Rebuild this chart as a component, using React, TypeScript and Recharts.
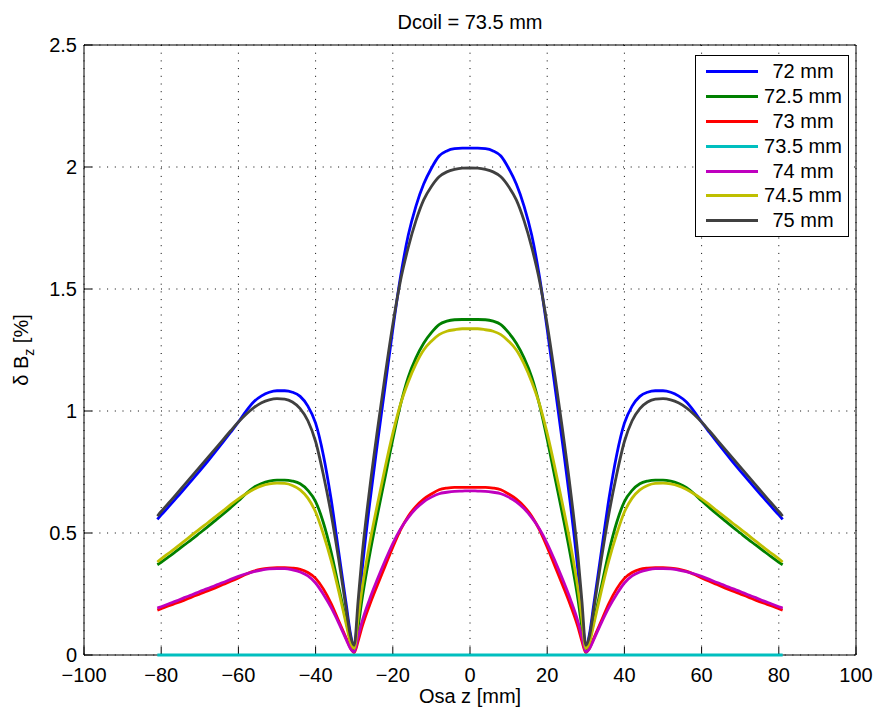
import React from 'react';
import { LineChart, Line, XAxis, YAxis, CartesianGrid, Legend } from 'recharts';

// axial position z [mm]
const Z = [
  -81, -80, -78, -76, -74, -72, -70, -68, -66, -64, -62, -60, -58, -56, -54, -52, -50, -48, -46, -44, -42,
  -40, -38, -36, -34, -32, -31, -30, -29, -28, -26, -24, -22, -20, -18, -16, -14, -12, -10, -8, -6, -4, -2,
  0,
  2, 4, 6, 8, 10, 12, 14, 16, 18, 20, 22, 24, 26, 28, 29, 30, 31, 32, 34, 36, 38, 40,
  42, 44, 46, 48, 50, 52, 54, 56, 58, 60, 62, 64, 66, 68, 70, 72, 74, 76, 78, 80, 81
];

// delta Bz [%] for each coil diameter
const D72 = [
  0.556, 0.574, 0.609, 0.645, 0.681, 0.718, 0.755, 0.793, 0.832, 0.872, 0.913, 0.955, 1.0, 1.038, 1.062, 1.077, 1.083, 1.083, 1.077, 1.06, 1.02,
  0.95, 0.82, 0.64, 0.42, 0.2, 0.09, 0.03, 0.17, 0.34, 0.62, 0.865, 1.1, 1.335, 1.55, 1.72, 1.84, 1.93, 1.995, 2.045, 2.066, 2.075, 2.077,
  2.077,
  2.077, 2.075, 2.066, 2.045, 1.995, 1.93, 1.84, 1.72, 1.55, 1.335, 1.1, 0.865, 0.62, 0.34, 0.17, 0.03, 0.09, 0.2, 0.42, 0.64, 0.82, 0.95,
  1.02, 1.06, 1.077, 1.083, 1.083, 1.077, 1.062, 1.038, 1.0, 0.955, 0.913, 0.872, 0.832, 0.793, 0.755, 0.718, 0.681, 0.645, 0.609, 0.574, 0.556
];
const D725 = [
  0.37, 0.38, 0.403, 0.427, 0.451, 0.475, 0.5, 0.525, 0.551, 0.577, 0.604, 0.632, 0.662, 0.687, 0.703, 0.713, 0.717, 0.717, 0.713, 0.702, 0.675,
  0.629, 0.543, 0.424, 0.278, 0.132, 0.06, 0.02, 0.113, 0.225, 0.41, 0.573, 0.728, 0.884, 1.026, 1.139, 1.218, 1.278, 1.321, 1.354, 1.368, 1.374, 1.375,
  1.375,
  1.375, 1.374, 1.368, 1.354, 1.321, 1.278, 1.218, 1.139, 1.026, 0.884, 0.728, 0.573, 0.41, 0.225, 0.113, 0.02, 0.06, 0.132, 0.278, 0.424, 0.543, 0.629,
  0.675, 0.702, 0.713, 0.717, 0.717, 0.713, 0.703, 0.687, 0.662, 0.632, 0.604, 0.577, 0.551, 0.525, 0.5, 0.475, 0.451, 0.427, 0.403, 0.38, 0.37
];
const D73 = [
  0.184, 0.19, 0.202, 0.213, 0.225, 0.238, 0.25, 0.262, 0.275, 0.289, 0.302, 0.316, 0.331, 0.344, 0.352, 0.356, 0.358, 0.358, 0.356, 0.351, 0.338,
  0.314, 0.271, 0.212, 0.139, 0.066, 0.03, 0.01, 0.056, 0.113, 0.205, 0.286, 0.364, 0.442, 0.513, 0.569, 0.609, 0.639, 0.66, 0.677, 0.684, 0.687, 0.687,
  0.687,
  0.687, 0.687, 0.684, 0.677, 0.66, 0.639, 0.609, 0.569, 0.513, 0.442, 0.364, 0.286, 0.205, 0.113, 0.056, 0.01, 0.03, 0.066, 0.139, 0.212, 0.271, 0.314,
  0.338, 0.351, 0.356, 0.358, 0.358, 0.356, 0.352, 0.344, 0.331, 0.316, 0.302, 0.289, 0.275, 0.262, 0.25, 0.238, 0.225, 0.213, 0.202, 0.19, 0.184
];
const D735 = [
  0, 0, 0, 0, 0, 0, 0, 0, 0, 0, 0, 0, 0, 0, 0, 0, 0, 0, 0, 0, 0,
  0, 0, 0, 0, 0, 0, 0, 0, 0, 0, 0, 0, 0, 0, 0, 0, 0, 0, 0, 0, 0, 0,
  0,
  0, 0, 0, 0, 0, 0, 0, 0, 0, 0, 0, 0, 0, 0, 0, 0, 0, 0, 0, 0, 0, 0,
  0, 0, 0, 0, 0, 0, 0, 0, 0, 0, 0, 0, 0, 0, 0, 0, 0, 0, 0, 0, 0
];
const D74 = [
  0.192, 0.198, 0.21, 0.222, 0.235, 0.247, 0.26, 0.272, 0.285, 0.297, 0.31, 0.322, 0.333, 0.342, 0.348, 0.353, 0.354, 0.354, 0.349, 0.34, 0.324,
  0.295, 0.249, 0.195, 0.131, 0.061, 0.027, 0.013, 0.074, 0.135, 0.229, 0.31, 0.386, 0.457, 0.517, 0.563, 0.6, 0.628, 0.647, 0.661, 0.667, 0.671, 0.672,
  0.673,
  0.672, 0.671, 0.667, 0.661, 0.647, 0.628, 0.6, 0.563, 0.517, 0.457, 0.386, 0.31, 0.229, 0.135, 0.074, 0.013, 0.027, 0.061, 0.131, 0.195, 0.249, 0.295,
  0.324, 0.34, 0.349, 0.354, 0.354, 0.353, 0.348, 0.342, 0.333, 0.322, 0.31, 0.297, 0.285, 0.272, 0.26, 0.247, 0.235, 0.222, 0.21, 0.198, 0.192
];
const D745 = [
  0.381, 0.394, 0.418, 0.442, 0.467, 0.492, 0.517, 0.541, 0.566, 0.591, 0.616, 0.64, 0.661, 0.679, 0.693, 0.701, 0.704, 0.703, 0.695, 0.677, 0.643,
  0.586, 0.496, 0.389, 0.261, 0.121, 0.054, 0.027, 0.147, 0.268, 0.456, 0.616, 0.767, 0.908, 1.028, 1.119, 1.193, 1.25, 1.286, 1.313, 1.327, 1.333, 1.337,
  1.337,
  1.337, 1.333, 1.327, 1.313, 1.286, 1.25, 1.193, 1.119, 1.028, 0.908, 0.767, 0.616, 0.456, 0.268, 0.147, 0.027, 0.054, 0.121, 0.261, 0.389, 0.496, 0.586,
  0.643, 0.677, 0.695, 0.703, 0.704, 0.701, 0.693, 0.679, 0.661, 0.64, 0.616, 0.591, 0.566, 0.541, 0.517, 0.492, 0.467, 0.442, 0.418, 0.394, 0.381
];
const D75 = [
  0.569, 0.588, 0.624, 0.66, 0.697, 0.734, 0.771, 0.808, 0.845, 0.882, 0.919, 0.955, 0.987, 1.014, 1.034, 1.046, 1.051, 1.049, 1.037, 1.01, 0.96,
  0.875, 0.74, 0.58, 0.39, 0.18, 0.08, 0.04, 0.22, 0.4, 0.68, 0.92, 1.145, 1.355, 1.535, 1.67, 1.78, 1.865, 1.92, 1.96, 1.98, 1.99, 1.995,
  1.996,
  1.995, 1.99, 1.98, 1.96, 1.92, 1.865, 1.78, 1.67, 1.535, 1.355, 1.145, 0.92, 0.68, 0.4, 0.22, 0.04, 0.08, 0.18, 0.39, 0.58, 0.74, 0.875,
  0.96, 1.01, 1.037, 1.049, 1.051, 1.046, 1.034, 1.014, 0.987, 0.955, 0.919, 0.882, 0.845, 0.808, 0.771, 0.734, 0.697, 0.66, 0.624, 0.588, 0.569
];

const X_TICKS = [-100, -80, -60, -40, -20, 0, 20, 40, 60, 80, 100];
const Y_TICKS = [0, 0.5, 1, 1.5, 2, 2.5];
const TITLE = 'Dcoil = 73.5 mm';
const X_LABEL = 'Osa z [mm]';

const SERIES = [
  { key: 'd72', name: '72 mm', color: '#0000ff', values: D72 },
  { key: 'd725', name: '72.5 mm', color: '#008000', values: D725 },
  { key: 'd73', name: '73 mm', color: '#ff0000', values: D73 },
  { key: 'd735', name: '73.5 mm', color: '#00bfbf', values: D735 },
  { key: 'd74', name: '74 mm', color: '#bf00bf', values: D74 },
  { key: 'd745', name: '74.5 mm', color: '#bfbf00', values: D745 },
  { key: 'd75', name: '75 mm', color: '#404040', values: D75 }
];

const rows = Z.map((z, i) => {
  const row: Record<string, number> = { z };
  SERIES.forEach(s => {
    row[s.key] = s.values[i];
  });
  return row;
});

const FONT = '"Liberation Sans", Arial, Helvetica, sans-serif';
const TICK_STYLE = { fill: '#000', fontSize: 20, fontFamily: FONT };

// matlab style minus sign on negative ticks
const fmtX = (v: number) => (v < 0 ? `\u2212${Math.abs(v)}` : `${v}`);

const TitleLabel = (props: any) => {
  const vb = props.viewBox || {};
  const cx = (vb.x ?? 84) + (vb.width ?? 772) / 2;
  return (
    <text x={cx} y={29} textAnchor="middle" fontSize={20} fontFamily={FONT} fill="#000">
      {TITLE}
    </text>
  );
};

const XLabel = (props: any) => {
  const vb = props.viewBox || {};
  const cx = (vb.x ?? 84) + (vb.width ?? 772) / 2;
  return (
    <text x={cx} y={703} textAnchor="middle" fontSize={20} fontFamily={FONT} fill="#000">
      {X_LABEL}
    </text>
  );
};

const YLabel = (props: any) => {
  const vb = props.viewBox || {};
  const cy = (vb.y ?? 45) + (vb.height ?? 610) / 2;
  return (
    <text
      x={0}
      y={0}
      transform={`translate(28, ${cy}) rotate(-90)`}
      textAnchor="middle"
      fontSize={20}
      fontFamily={FONT}
      fill="#000"
    >
      δ B<tspan dy={6} fontSize={14}>z</tspan>
      <tspan dy={-6}> [%]</tspan>
    </text>
  );
};

const renderLegend = () => (
  <div
    style={{
      border: '1px solid #000',
      background: '#fff',
      padding: '3px 0',
      width: 152,
      fontFamily: FONT,
      fontSize: 20,
      color: '#000'
    }}
  >
    {SERIES.map(s => (
      <div key={s.key} style={{ display: 'flex', alignItems: 'center', height: 24.9 }}>
        <div style={{ marginLeft: 10, width: 52, height: 3, background: s.color }} />
        <div style={{ flex: 1, textAlign: 'center', lineHeight: '24.9px' }}>{s.name}</div>
      </div>
    ))}
  </div>
);

const App: React.FC = () => {
  return (
    <div style={{ position: 'absolute', left: 0, top: 0, width: 877, height: 709, background: '#fff' }}>
      <LineChart
        width={877}
        height={709}
        data={rows}
        margin={{ top: 45, right: 21, left: 0, bottom: 0 }}
        style={{ fontFamily: FONT }}
      >
        <CartesianGrid stroke="#000" strokeDasharray="1 6.7" strokeWidth={1} />
        <XAxis
          dataKey="z"
          type="number"
          domain={[-100, 100]}
          ticks={X_TICKS}
          tickFormatter={fmtX}
          height={54}
          tickSize={-8}
          tickMargin={21}
          tick={TICK_STYLE}
          stroke="#000"
          axisLine={{ stroke: '#000' }}
          tickLine={{ stroke: '#000' }}
          label={XLabel}
        />
        <XAxis
          xAxisId="top"
          dataKey="z"
          type="number"
          orientation="top"
          mirror
          allowDataOverflow
          domain={[-100, 100]}
          ticks={X_TICKS}
          height={30}
          tickSize={8}
          tick={false}
          axisLine={{ stroke: '#000' }}
          tickLine={{ stroke: '#000' }}
          label={TitleLabel}
        />
        <YAxis
          type="number"
          domain={[0, 2.5]}
          ticks={Y_TICKS}
          width={84}
          tickSize={-8}
          tickMargin={15}
          tick={TICK_STYLE}
          axisLine={{ stroke: '#000' }}
          tickLine={{ stroke: '#000' }}
          label={YLabel}
        />
        <YAxis
          yAxisId="right"
          type="number"
          orientation="right"
          mirror
          allowDataOverflow
          domain={[0, 2.5]}
          ticks={Y_TICKS}
          width={60}
          tickSize={8}
          tick={false}
          axisLine={{ stroke: '#000' }}
          tickLine={{ stroke: '#000' }}
        />
        {SERIES.map(s => (
          <Line
            key={s.key}
            type="monotone"
            dataKey={s.key}
            name={s.name}
            stroke={s.color}
            strokeWidth={2.8}
            dot={false}
            activeDot={false}
            isAnimationActive={false}
            zIndex={700}
          />
        ))}
        <Legend
          content={renderLegend}
          layout="horizontal"
          align="center"
          verticalAlign="middle"
          wrapperStyle={{ left: 695, top: 55, width: 'auto' }}
        />
      </LineChart>
    </div>
  );
};

export default App;
